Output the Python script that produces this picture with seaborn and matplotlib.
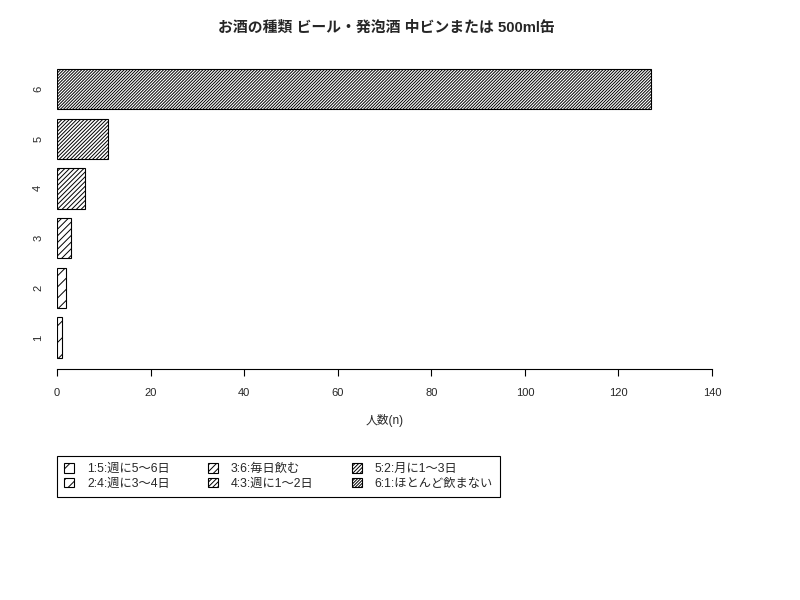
import matplotlib
matplotlib.use("Agg")
import matplotlib.pyplot as plt
import seaborn as sns
import pandas as pd
from matplotlib.patches import Patch

categories = ["1", "2", "3", "4", "5", "6"]
counts = [1, 2, 3, 6, 11, 127]
legend_labels = ["1:5:週に5〜6日", "2:4:週に3〜4日", "3:6:毎日飲む",
                 "4:3:週に1〜2日", "5:2:月に1〜3日", "6:1:ほとんど飲まない"]
hatches = ["//", "///", "/////", "///////", "/////////", "///////////"]
title = "お酒の種類 ビール・発泡酒 中ビンまたは 500ml缶"
xlabel = "人数(n)"
xticks = [0, 20, 40, 60, 80, 100, 120, 140]

sns.set_style("white")
plt.rcParams['font.family'] = ['Liberation Sans', 'Noto Sans CJK JP', 'DejaVu Sans']
plt.rcParams['hatch.linewidth'] = 0.7

df = pd.DataFrame({"cat": categories, "n": counts})
order = categories[::-1]

fig = plt.figure(figsize=(8, 6), dpi=100)
ax = fig.add_axes([57/800, (600-369)/600, (712-57)/800, (369-60)/600])
sns.barplot(data=df, x="n", y="cat", order=order, orient="h", color="white",
            edgecolor="black", linewidth=0.8, width=0.81, ax=ax, saturation=1)
hatch_map = dict(zip(categories, hatches))
for patch, c in zip(ax.patches, order):
    patch.set_hatch(hatch_map[c])
    patch.set_facecolor("white")
    patch.set_edgecolor("black")

ax.set_xlim(0, 140)
ax.set_ylim(5.634, -0.584)
ax.set_xticks(xticks)
ax.set_xticklabels([str(t) for t in xticks], fontsize=8)
ax.tick_params(axis='x', length=5, width=0.8, pad=8.5, color='black', bottom=True)
ax.tick_params(axis='y', length=0, pad=10)
for lab in ax.get_yticklabels():
    lab.set_rotation(90)
    lab.set_va('center')
    lab.set_fontsize(8)
for s in ["top", "right", "left"]:
    ax.spines[s].set_visible(False)
ax.spines["bottom"].set_color("black")
ax.spines["bottom"].set_linewidth(0.8)
ax.spines["bottom"].set_bounds(0, 140)
ax.set_ylabel("")
ax.set_xlabel(xlabel, fontsize=8.5, labelpad=12)
fig.text(0.4825, 1 - 28/600, title, ha="center", va="center", fontsize=10.7, fontweight="bold")

handles = [Patch(facecolor="white", edgecolor="black", hatch=h, linewidth=0.8) for h in hatches]
leg = fig.legend(handles, legend_labels, loc="upper left", bbox_to_anchor=(57/800, 1 - 456/600),
                 ncol=3, fontsize=8.8, frameon=True, fancybox=False, edgecolor="black",
                 framealpha=1, borderaxespad=0, handlelength=0.8, handleheight=0.8,
                 handletextpad=1.05, columnspacing=3.15, labelspacing=0.2, borderpad=0.6)
leg.get_frame().set_linewidth(0.8)

fig.savefig("out.png", dpi=100)
